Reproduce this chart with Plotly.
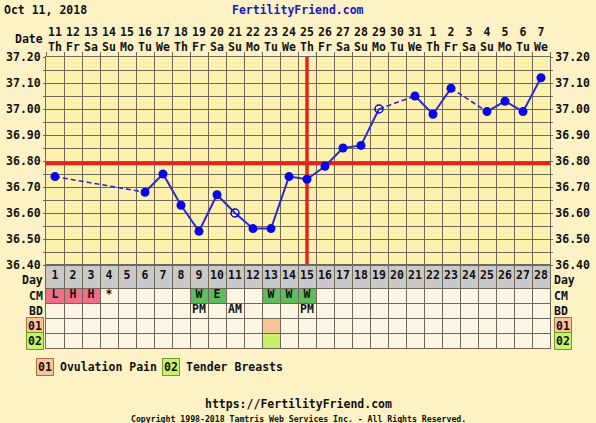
import plotly.graph_objects as go

# ---------------- chart data ----------------
chart_date = "Oct 11, 2018"
site_name = "FertilityFriend.com"
site_url = "https://FertilityFriend.com"
copyright_text = "Copyright 1998-2018 Tamtris Web Services Inc. - All Rights Reserved."

cycle_days = list(range(1, 29))
date_labels = ["11", "12", "13", "14", "15", "16", "17", "18", "19", "20", "21", "22", "23", "24",
               "25", "26", "27", "28", "29", "30", "31", "1", "2", "3", "4", "5", "6", "7"]
weekday_labels = ["Th", "Fr", "Sa", "Su", "Mo", "Tu", "We",
                  "Th", "Fr", "Sa", "Su", "Mo", "Tu", "We",
                  "Th", "Fr", "Sa", "Su", "Mo", "Tu", "We",
                  "Th", "Fr", "Sa", "Su", "Mo", "Tu", "We"]

temperatures = [36.74, None, None, None, None, 36.68, 36.75, 36.63, 36.53, 36.67,
                36.60, 36.54, 36.54, 36.74, 36.73, 36.78, 36.85, 36.86, 37.00, None,
                37.05, 36.98, 37.08, None, 36.99, 37.03, 36.99, 37.12]
discarded_days = [11, 19]
coverline = 36.79
ovulation_day = 15

temp_tick_values = [36.40, 36.45, 36.50, 36.55, 36.60, 36.65, 36.70, 36.75, 36.80,
                    36.85, 36.90, 36.95, 37.00, 37.05, 37.10, 37.15, 37.20]
temp_tick_labels = ["36.40", "", "36.50", "", "36.60", "", "36.70", "", "36.80",
                    "", "36.90", "", "37.00", "", "37.10", "", "37.20"]

cervical_mucus = ["L", "H", "H", "*", "", "", "", "", "W", "E", "", "", "W", "W",
                  "W", "", "", "", "", "", "", "", "", "", "", "", "", ""]
intercourse = ["", "", "", "", "", "", "", "", "PM", "", "AM", "", "", "",
               "PM", "", "", "", "", "", "", "", "", "", "", "", "", ""]

symptom_codes = ["01", "02"]
symptom_names = ["Ovulation Pain", "Tender Breasts"]
symptom_days = [[13], [13]]

# ---------------- styling ----------------
W, H = 596, 423
FONT = "DejaVu Sans Mono"
FS = 11.5
PAGE_BG = "#fdf2c6"
PLOT_BG = "#fef1ae"
CELL_BG = "#fdf6e3"
GRID = "#6f6757"
DAY_ROW_BG = "#c9c9c9"
RED = "#e3241d"
LINE_BLUE = "#2b2bd0"
DOT_BLUE = "#0606e8"
TEXT = "#111111"
MUCUS_COLORS = {"L": "#ef6f87", "H": "#ef6f87", "W": "#5fbd5f", "E": "#5fbd5f"}
SYMPTOM_FILL = ["#f8c49a", "#c8f26c"]
SYMPTOM_EDGE = ["#a5714a", "#6f9a2a"]

# plot frame in pixels
PX_LEFT, PX_RIGHT = 46, 550
PX_TOP, PX_TEMP_BOTTOM, PX_TABLE_BOTTOM = 57, 265, 348
ROW_EDGES = [0, 23, 38, 53, 68, 83]           # table rows, px below the temperature area
ROW_MID = [(a + b) / 2 for a, b in zip(ROW_EDGES[:-1], ROW_EDGES[1:])]


def px_x(px):
    return px / W


def px_y(py):
    return 1 - py / H


x_domain = [px_x(PX_LEFT), px_x(PX_RIGHT)]
x_range = [0.5, len(cycle_days) + 0.5]
temp_range = [36.40, 37.20]
col_edges = [d - 0.5 for d in cycle_days] + [len(cycle_days) + 0.5]

fig = go.Figure()

# ---- coverline and ovulation day (under the temperature marks) ----
fig.add_trace(go.Scatter(
    x=x_range, y=[coverline, coverline], mode="lines",
    line=dict(color=RED, width=3.5), hoverinfo="skip", xaxis="x", yaxis="y"))
fig.add_trace(go.Scatter(
    x=[ovulation_day, ovulation_day], y=temp_range, mode="lines",
    line=dict(color=RED, width=3.5), hoverinfo="skip", xaxis="x", yaxis="y"))

# ---- temperature line (solid between consecutive days) ----
fig.add_trace(go.Scatter(
    x=cycle_days, y=temperatures, mode="lines", connectgaps=False,
    line=dict(color=LINE_BLUE, width=2), hoverinfo="skip",
    xaxis="x", yaxis="y"))

# ---- dashed bridges across missing days ----
bx, by = [], []
prev = None
for d, t in zip(cycle_days, temperatures):
    if t is None:
        continue
    if prev is not None and d - prev[0] > 1:
        bx += [prev[0], d, None]
        by += [prev[1], t, None]
    prev = (d, t)
fig.add_trace(go.Scatter(
    x=bx, y=by, mode="lines", line=dict(color=LINE_BLUE, width=1.6, dash="5px,3px"),
    hoverinfo="skip", xaxis="x", yaxis="y"))

# ---- markers ----
kept = [(d, t) for d, t in zip(cycle_days, temperatures) if t is not None and d not in discarded_days]
dropped = [(d, t) for d, t in zip(cycle_days, temperatures) if t is not None and d in discarded_days]
fig.add_trace(go.Scatter(
    x=[d for d, _ in kept], y=[t for _, t in kept], mode="markers",
    marker=dict(color=DOT_BLUE, size=9, line=dict(width=0)),
    xaxis="x", yaxis="y"))
fig.add_trace(go.Scatter(
    x=[d for d, _ in dropped], y=[t for _, t in dropped], mode="markers",
    marker=dict(symbol="circle-open", color=DOT_BLUE, size=8, line=dict(width=1.5)),
    xaxis="x", yaxis="y"))

# ---- chart table text ----
table_font = dict(family=FONT, size=FS, color=TEXT, weight="bold")
for row, texts in enumerate([[str(d) for d in cycle_days], cervical_mucus, intercourse]):
    fig.add_trace(go.Scatter(
        x=cycle_days, y=[ROW_MID[row]] * len(cycle_days), mode="text",
        text=texts, textfont=table_font, hoverinfo="skip", xaxis="x2", yaxis="y2"))

shapes = []
# table background and gray day row
shapes.append(dict(type="rect", xref="x2 domain", yref="y2 domain", x0=0, x1=1, y0=0, y1=1,
                   fillcolor=CELL_BG, line=dict(width=0), layer="below"))
shapes.append(dict(type="rect", xref="x2 domain", yref="y2", x0=0, x1=1,
                   y0=ROW_EDGES[0], y1=ROW_EDGES[1], fillcolor=DAY_ROW_BG,
                   line=dict(width=0), layer="below"))
# cervical mucus cells
for d, code in zip(cycle_days, cervical_mucus):
    if code in MUCUS_COLORS:
        shapes.append(dict(type="rect", xref="x2", yref="y2", x0=d - 0.5, x1=d + 0.5,
                           y0=ROW_EDGES[1], y1=ROW_EDGES[2], fillcolor=MUCUS_COLORS[code],
                           line=dict(width=0), layer="below"))
# symptom cells
for i, days in enumerate(symptom_days):
    for d in days:
        shapes.append(dict(type="rect", xref="x2", yref="y2", x0=d - 0.5, x1=d + 0.5,
                           y0=ROW_EDGES[3 + i], y1=ROW_EDGES[4 + i], fillcolor=SYMPTOM_FILL[i],
                           line=dict(width=0), layer="below"))

annotations = []


def label(text, x, y, xanchor="center", yanchor="middle", size=FS, color=TEXT, weight="bold",
          xref="paper", yref="paper", **kw):
    annotations.append(dict(text=text, x=x, y=y, xref=xref, yref=yref, xanchor=xanchor,
                            yanchor=yanchor, showarrow=False, borderpad=kw.pop("borderpad", 0),
                            font=dict(family=FONT, size=size, color=color, weight=weight), **kw))


# header
label(chart_date, px_x(3), px_y(10), xanchor="left")
label(site_name, 0.5, px_y(10), color="#1717c8")
label("Date", px_x(44), px_y(39), xanchor="right")
for d, dl, wl in zip(cycle_days, date_labels, weekday_labels):
    label(dl + "<br>" + wl, d, px_y(39), xref="x")

# table row labels, both sides ("Day" sits just under the 36.40 tick label)
label("Day", px_x(44), ROW_EDGES[0] + 7, xanchor="right", yanchor="top", yref="y2")
label("Day", px_x(553), ROW_EDGES[0] + 7, xanchor="left", yanchor="top", yref="y2")
for name, mid in zip(["CM", "BD"], ROW_MID[1:3]):
    label(name, px_x(44), mid, xanchor="right", yref="y2")
    label(name, px_x(553), mid, xanchor="left", yref="y2")
for i, code in enumerate(symptom_codes):
    mid = ROW_MID[3 + i]
    label(code, px_x(44), mid, xanchor="right", yref="y2",
          bgcolor=SYMPTOM_FILL[i], bordercolor=SYMPTOM_EDGE[i], borderwidth=1, borderpad=1)
    label(code, px_x(554), mid, xanchor="left", yref="y2",
          bgcolor=SYMPTOM_FILL[i], bordercolor=SYMPTOM_EDGE[i], borderwidth=1, borderpad=1)

# symptom key
key_x = [36, 162]
for i, (code, name) in enumerate(zip(symptom_codes, symptom_names)):
    label(code, px_x(key_x[i]), px_y(367), xanchor="left",
          bgcolor=SYMPTOM_FILL[i], bordercolor=SYMPTOM_EDGE[i], borderwidth=1, borderpad=1)
    label(name, px_x(key_x[i] + 23), px_y(367), xanchor="left")

# footer
label(site_url, 0.5, px_y(404))
label(copyright_text, 0.5, px_y(418.5), size=8.2)

temp_axis = dict(range=temp_range, tickmode="array", tickvals=temp_tick_values,
                 ticktext=temp_tick_labels, zeroline=False, automargin=False,
                 tickfont=dict(family=FONT, size=FS, color=TEXT, weight="bold"),
                 domain=[px_y(PX_TEMP_BOTTOM), px_y(PX_TOP)])

fig.update_layout(
    template="none",
    width=W, height=H, autosize=False,
    margin=dict(l=0, r=0, t=0, b=0, pad=0),
    paper_bgcolor=PAGE_BG, plot_bgcolor=PLOT_BG,
    showlegend=False,
    font=dict(family=FONT, size=FS, color=TEXT, weight="bold"),
    xaxis=dict(domain=x_domain, range=x_range, anchor="y", side="top", automargin=False,
               tickmode="array", tickvals=col_edges, showticklabels=False,
               ticks="outside", ticklen=4, tickcolor=GRID, tickwidth=1,
               showgrid=True, gridcolor=GRID, gridwidth=1, zeroline=False,
               showline=True, linecolor=GRID, linewidth=1, mirror=True),
    yaxis=dict(**temp_axis, anchor="x", side="left", showgrid=True, gridcolor=GRID, gridwidth=1,
               ticks="outside", ticklen=2, tickcolor=GRID,
               showline=True, linecolor=GRID, linewidth=1, mirror=True),
    yaxis3=dict(**temp_axis, anchor="x", overlaying="y", side="right", showgrid=False,
                ticks="outside", ticklen=2, tickcolor=GRID),
    xaxis2=dict(domain=x_domain, range=x_range, anchor="y2", automargin=False,
                tickmode="array", tickvals=col_edges, showticklabels=False, ticks="",
                showgrid=True, gridcolor=GRID, gridwidth=1, zeroline=False,
                showline=True, linecolor=GRID, linewidth=1, mirror=True),
    yaxis2=dict(domain=[px_y(PX_TABLE_BOTTOM), px_y(PX_TEMP_BOTTOM)], range=[ROW_EDGES[-1], 0],
                anchor="x2", automargin=False, tickmode="array", tickvals=ROW_EDGES,
                showticklabels=False, ticks="",
                showgrid=True, gridcolor=GRID, gridwidth=1, zeroline=False,
                showline=True, linecolor=GRID, linewidth=1, mirror=True),
    shapes=shapes,
    annotations=annotations,
)

# right-hand temperature labels are carried by an empty trace on the overlay axis
fig.add_trace(go.Scatter(x=[None], y=[None], xaxis="x", yaxis="y3", hoverinfo="skip"))

fig.write_html("out.html")
